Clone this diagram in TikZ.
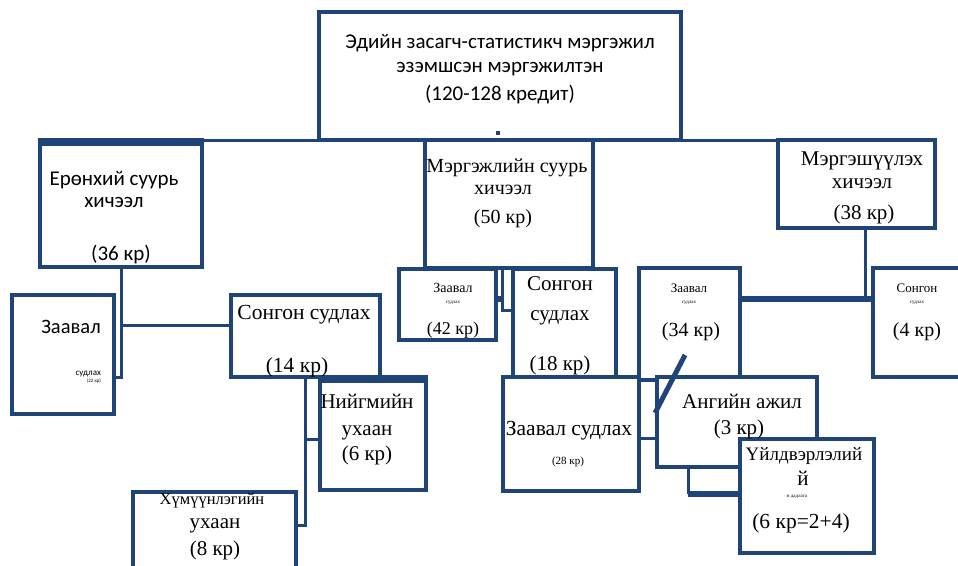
\documentclass[tikz,border=0pt]{standalone}
\usepackage{fontspec}
\setmainfont{Liberation Serif}
\newfontfamily\calfont{Carlito}
\definecolor{lnc}{HTML}{1F4478}
\newcommand\myfs[1]{\fontsize{#1}{#1}\selectfont}
\tikzset{
  box/.style={draw=lnc, line width=3.2pt, fill=white, inner sep=0pt, outer sep=0pt, rectangle},
  conn/.style={draw=lnc, line width=3pt},
  heavy/.style={draw=lnc, line width=6.5pt},
  txt/.style={inner sep=0pt, outer sep=0pt, anchor=base, align=center, text=black},
}
\begin{document}
\begin{tikzpicture}[x=1pt,y=-1pt]
\useasboundingbox (0,0) rectangle (958,565);
\clip (0,0) rectangle (958,565);
% helper coordinates
\coordinate (c1) at (121,377);
\coordinate (c2) at (121,325);
\coordinate (c3) at (305,525);
\coordinate (c4) at (305,439);
\coordinate (c5) at (502,310);
\coordinate (c6) at (640,438);
\coordinate (c7) at (688,494);
\coordinate (c8) at (865,299);
\coordinate (topL) at (40,140);
\coordinate (topR) at (935,140);
\coordinate (s1) at (685,355);
\coordinate (s2) at (655,413);

% boxes (drawn in layering order)
\node[box, minimum width=362pt, minimum height=128pt] (top) at (500,76) {};
\draw[conn] (topL) -- (topR);
\node[box, minimum width=162pt, minimum height=127pt] (erunhii) at (121,203.5) {};
\draw[heavy] (erunhii.north west) ++(0,3) -- ([yshift=-3pt]erunhii.north east);
\node[box, minimum width=168pt, minimum height=128pt] (mergejl) at (509,204) {};
\node[box, minimum width=157pt, minimum height=88pt] (mergesh) at (856.5,184) {};

% connectors
\draw[conn] (erunhii.south) -- (c1) -- (c1 -| 114,0);
\draw[conn] (c2) -- (c2 -| 231,0);
\draw[conn] (305,377) -- (c3) -- (c3 -| 296,0);
\draw[conn] (c4) -- (c4 -| 320,0);
\draw[conn] (502,269) -- (c5) -- (c5 -| 513,0);
\draw[lnc, line width=6pt] (496,299) -- (503,299);
\draw[conn] (c6) -- (c6 -| 657,0);
\draw[conn] (688,467) -- (c7);
\draw[heavy] (c7) -- (c7 -| 740,0);
\draw[conn] (mergesh.south -| c8) -- (c8);
\draw[heavy] (c8 -| 740,0) -- (c8 -| 873,0);

\node[box, minimum width=102pt, minimum height=119pt] (zaaval1) at (63,354.5) {};
\node[box, minimum width=149pt, minimum height=82pt] (songon14) at (305.5,336) {};
\node[box, minimum width=106pt, minimum height=113pt] (niigmiin) at (373,433.5) {};
\draw[heavy] ([yshift=-3pt]niigmiin.north west) -- ([yshift=-3pt]niigmiin.north east);
\node[box, minimum width=163pt, minimum height=83pt] (humuun) at (214.5,533.5) {};
\node[box, minimum width=97pt, minimum height=71pt] (zaaval42) at (447.5,304.5) {};
\node[box, minimum width=103pt, minimum height=111pt] (songon18) at (564.5,324.5) {};
\node[box, minimum width=101pt, minimum height=112pt] (zaaval34) at (689.5,324) {};
\node[box, minimum width=95pt, minimum height=109pt] (songon4) at (920.5,322.5) {};
\node[box, minimum width=136pt, minimum height=114pt] (zaaval28) at (571,434) {};
\node[box, minimum width=160pt, minimum height=90pt] (angiin) at (737,422) {};
\node[box, minimum width=134pt, minimum height=114pt] (uildver) at (807,496) {};

% small square mark
\fill[lnc] (496,131) rectangle (500,135);

% texts
\node[txt, font=\calfont\myfs{21}] (t1a) at (500,48) {Эдийн засагч-статистикч мэргэжил};
\node[txt, font=\calfont\myfs{21}] (t1b) at (500,72) {эзэмшсэн мэргэжилтэн};
\node[txt, font=\calfont\myfs{21}] (t1c) at (500,100) {(120-128 кредит)};

\node[txt, font=\calfont\myfs{21}] (t2a) at (114,185) {Ерөнхий суурь};
\node[txt, font=\calfont\myfs{21}] (t2b) at (114,207) {хичээл};
\node[txt, font=\calfont\myfs{21}] (t2c) at (121,260) {(36 кр)};

\node[txt, font=\calfont\myfs{20.5}] (t3a) at (71,333) {Заавал};
\node[txt, font=\calfont\myfs{9}, anchor=base east] (t3b) at (101,375) {судлах};
\node[txt, font=\calfont\myfs{5}, anchor=base east] (t3c) at (101,382) {(22 кр)};

\node[txt, font=\myfs{21.5}] (t4a) at (304,319) {Сонгон судлах};
\node[txt, font=\myfs{21.5}] (t4b) at (297,372) {(14 кр)};

\node[txt, font=\myfs{21}] (t5a) at (367,408) {Нийгмийн};
\node[txt, font=\myfs{21}] (t5b) at (367,435) {ухаан};
\node[txt, font=\myfs{21}] (t5c) at (367,460) {(6 кр)};

\node[txt, font=\myfs{16.5}] (t6a) at (212,504) {Хүмүүнлэгийн};
\node[txt, font=\myfs{21}] (t6b) at (215,528) {ухаан};
\node[txt, font=\myfs{21}] (t6c) at (215,555) {(8 кр)};

\node[txt, font=\myfs{20}] (t7a) at (507,172) {Мэргэжлийн суурь};
\node[txt, font=\myfs{20}] (t7b) at (503,194) {хичээл};
\node[txt, font=\myfs{20}] (t7c) at (503,223) {(50 кр)};

\node[txt, font=\myfs{21}] (t8a) at (862,165) {Мэргэшүүлэх};
\node[txt, font=\myfs{21}] (t8b) at (862,188) {хичээл};
\node[txt, font=\myfs{21}] (t8c) at (864,219) {(38 кр)};

\node[txt, font=\myfs{14}] (t9a) at (453,292) {Заавал};
\node[txt, font=\myfs{5}] (t9b) at (453,303) {судлах};
\node[txt, font=\myfs{18}] (t9c) at (453,334) {(42 кр)};

\node[txt, font=\myfs{21}] (t10a) at (560,290) {Сонгон};
\node[txt, font=\myfs{21}] (t10b) at (560,320) {судлах};
\node[txt, font=\myfs{21}] (t10c) at (560,370) {(18 кр)};

\node[txt, font=\myfs{13}] (t11a) at (689,292) {Заавал};
\node[txt, font=\myfs{5}] (t11b) at (689,303) {судлах};
\node[txt, font=\myfs{20}] (t11c) at (691,336) {(34 кр)};

\node[txt, font=\myfs{13}] (t12a) at (917,292) {Сонгон};
\node[txt, font=\myfs{5}] (t12b) at (917,303) {судлах};
\node[txt, font=\myfs{20}] (t12c) at (917,336) {(4 кр)};

\node[txt, font=\myfs{21.5}] (t13a) at (569,435) {Заавал судлах};
\node[txt, font=\myfs{11}] (t13b) at (568,464) {(28 кр)};

\node[txt, font=\myfs{21}] (t14a) at (742,408) {Ангийн ажил};
\node[txt, font=\myfs{21}] (t14b) at (739,434) {(3 кр)};

\node[txt, font=\myfs{19}] (t15a) at (804,460) {Үйлдвэрлэлий};
\node[txt, font=\myfs{21}] (t15b) at (803,485) {й};
\node[txt, font=\myfs{5}] (t15c) at (797,497) {н дадлага};
\node[txt, font=\myfs{21.5}] (t15d) at (801,528) {(6 кр=2+4)};

% slash
\draw[lnc, line width=5pt] (s1) -- (s2);
\end{tikzpicture}
\end{document}
